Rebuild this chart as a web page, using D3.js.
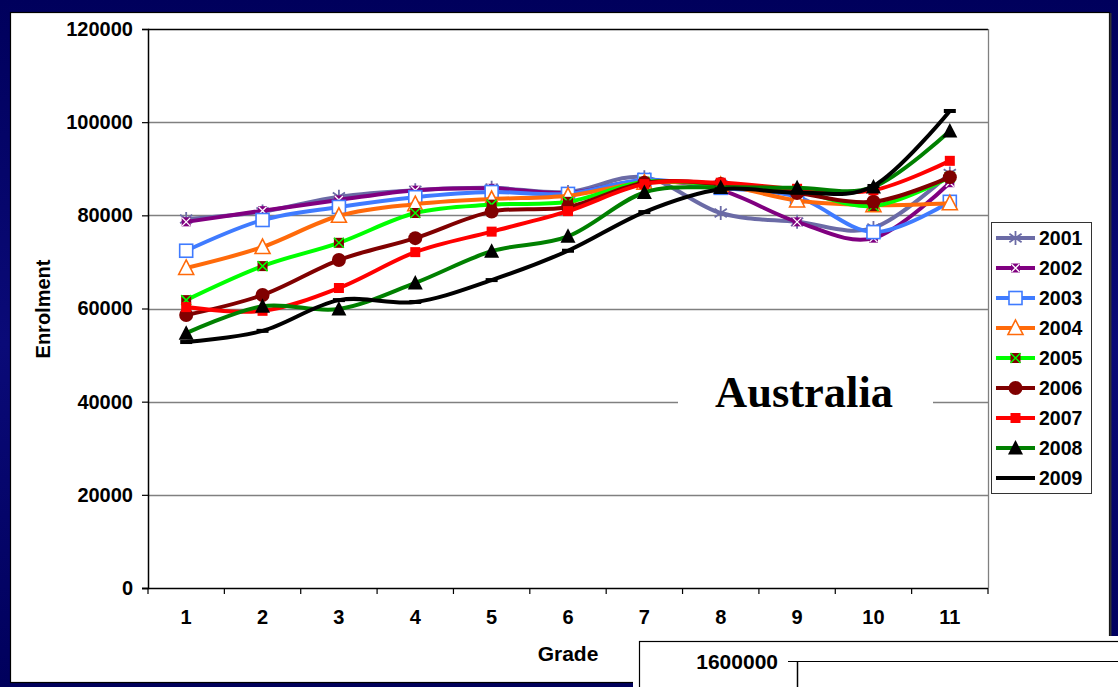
<!DOCTYPE html>
<html>
<head>
<meta charset="utf-8">
<script src="https://cdn.jsdelivr.net/npm/d3@7"></script>
<style>
  html, body { margin: 0; padding: 0; background: #000060; }
  svg { display: block; }
</style>
</head>
<body>
<svg id="chart" width="1118" height="687"></svg>
<script>
// ---------- DATA ----------
const grades = ["1","2","3","4","5","6","7","8","9","10","11"];
const yTicks = [0, 20000, 40000, 60000, 80000, 100000, 120000];
const years = ["2001","2002","2003","2004","2005","2006","2007","2008","2009"];

const y2001 = [79200, 80800, 84000, 85400, 85900, 85000, 88200, 80500, 78600, 77300, 89000];
const y2002 = [78600, 81000, 83300, 85400, 85800, 84800, 87400, 85400, 78600, 75100, 87000];
const y2003 = [72400, 79000, 81800, 83900, 85000, 84600, 87600, 85900, 84000, 76400, 82900];
const y2004 = [68700, 73200, 79900, 82400, 83500, 84200, 87000, 86500, 83200, 82200, 82600];
const y2005 = [61800, 69100, 74100, 80500, 82300, 82900, 87200, 86500, 85200, 82000, 88200];
const y2006 = [58600, 62900, 70400, 75100, 80800, 81800, 87000, 86700, 84800, 82900, 88200];
const y2007 = [60300, 59500, 64400, 72100, 76500, 80900, 86700, 87000, 85700, 85400, 91700];
const y2008 = [54700, 60500, 59900, 65500, 72300, 75500, 84900, 86000, 85900, 86100, 98100];
const y2009 = [52800, 55200, 61800, 61400, 66100, 72400, 80700, 85600, 84900, 86300, 102400];

const seriesValues = [y2001, y2002, y2003, y2004, y2005, y2006, y2007, y2008, y2009];
const lineColors = ["#6b6ba6", "#800080", "#3f7bff", "#ff6a0a", "#00ff00", "#800000", "#ff0000", "#008000", "#000000"];
const markerTypes = ["asterisk", "purpleX", "openSquare", "openTriangle", "greenX", "circle", "square", "triangle", "dash"];

const series = years.map((yr, i) => ({ year: yr, values: seriesValues[i], color: lineColors[i], marker: markerTypes[i] }));

// ---------- LAYOUT ----------
const svg = d3.select("#chart");
const W = 1118, H = 687;
const plot = { left: 148, right: 988, top: 29, bottom: 588 };
const SANS = "Liberation Sans, Arial, sans-serif";

// background
const defs = svg.append("defs");
const grad = defs.append("linearGradient").attr("id", "bg").attr("x1", 0).attr("y1", 0).attr("x2", 0).attr("y2", 1);
grad.append("stop").attr("offset", "0%").attr("stop-color", "#00005c");
grad.append("stop").attr("offset", "50%").attr("stop-color", "#0a0a78");
grad.append("stop").attr("offset", "100%").attr("stop-color", "#00005c");
svg.append("rect").attr("width", W).attr("height", H).attr("fill", "url(#bg)");

// main white panel
svg.append("rect").attr("x", 10.5).attr("y", 12.5).attr("width", 1099).attr("height", 670)
  .attr("fill", "#fff").attr("stroke", "#000").attr("stroke-width", 1.2);
svg.append("line").attr("x1", 1110.5).attr("x2", 1110.5).attr("y1", 13).attr("y2", 683)
  .attr("stroke", "#333").attr("stroke-width", 2);

const x = d3.scaleBand().domain(grades).range([plot.left, plot.right]).paddingInner(0).paddingOuter(0);
const y = d3.scaleLinear().domain([0, 120000]).range([plot.bottom, plot.top]);
const cx = g => x(g) + x.bandwidth() / 2;

// gridlines
svg.append("g").selectAll("line").data(yTicks.filter(t => t > 0)).join("line")
  .attr("x1", plot.left).attr("x2", plot.right)
  .attr("y1", d => Math.round(y(d)) + 0.5).attr("y2", d => Math.round(y(d)) + 0.5)
  .attr("stroke", d => d === 120000 ? "#000" : "#808080").attr("stroke-width", 1.3);
// right border of plot area
svg.append("line").attr("x1", plot.right + 0.5).attr("x2", plot.right + 0.5)
  .attr("y1", plot.top).attr("y2", plot.bottom).attr("stroke", "#808080").attr("stroke-width", 1.3);

// Y axis
const yAxis = svg.append("g").attr("transform", `translate(${plot.left},0)`)
  .call(d3.axisLeft(y).tickValues(yTicks).tickSize(6).tickPadding(9).tickFormat(d3.format("d")));
yAxis.select(".domain").attr("stroke", "#000").attr("stroke-width", 1.5);
yAxis.selectAll(".tick line").attr("stroke", "#000").attr("stroke-width", 1.2);
yAxis.selectAll("text").attr("font-family", SANS)
  .attr("font-size", 20).attr("font-weight", "bold").attr("fill", "#000");

// X axis
const xAxis = svg.append("g").attr("transform", `translate(0,${plot.bottom})`)
  .call(d3.axisBottom(x).tickSize(0).tickPadding(22));
xAxis.select(".domain").remove();
xAxis.selectAll("text").attr("font-family", SANS)
  .attr("font-size", 20).attr("font-weight", "bold").attr("fill", "#000");
svg.append("line").attr("x1", plot.left - 6).attr("x2", plot.right)
  .attr("y1", plot.bottom + 0.5).attr("y2", plot.bottom + 0.5).attr("stroke", "#000").attr("stroke-width", 1.5);
svg.append("g").selectAll("line").data(d3.range(grades.length + 1)).join("line")
  .attr("x1", i => plot.left + i * x.step()).attr("x2", i => plot.left + i * x.step())
  .attr("y1", plot.bottom).attr("y2", plot.bottom + 6).attr("stroke", "#000").attr("stroke-width", 1.2);

// axis titles
svg.append("text").attr("x", 568).attr("y", 661).attr("text-anchor", "middle")
  .attr("font-family", SANS).attr("font-size", 21).attr("font-weight", "bold")
  .text("Grade");
svg.append("text").attr("transform", "translate(50,309) rotate(-90)").attr("text-anchor", "middle")
  .attr("font-family", SANS).attr("font-size", 20).attr("font-weight", "bold")
  .text("Enrolment");

// "Australia" label with white background
svg.append("rect").attr("x", 678).attr("y", 376).attr("width", 255).attr("height", 42).attr("fill", "#fff");
svg.append("text").attr("x", 804).attr("y", 407).attr("text-anchor", "middle")
  .attr("font-family", "Liberation Serif, Times New Roman, serif").attr("font-size", 44.5).attr("font-weight", "bold")
  .text("Australia");

// ---------- MARKERS ----------
function drawMarker(g, type, color) {
  switch (type) {
    case "asterisk": {
      const r = 7;
      const p = d3.path();
      p.moveTo(0, -r); p.lineTo(0, r);
      p.moveTo(-r * 0.87, -r * 0.6); p.lineTo(r * 0.87, r * 0.6);
      p.moveTo(-r * 0.87, r * 0.6); p.lineTo(r * 0.87, -r * 0.6);
      g.append("path").attr("d", p.toString()).attr("stroke", color).attr("stroke-width", 1.8).attr("fill", "none");
      break;
    }
    case "purpleX": {
      g.append("rect").attr("x", -4.5).attr("y", -4.5).attr("width", 9).attr("height", 9).attr("fill", color);
      g.append("path").attr("d", "M-4,-4L4,4M-4,4L4,-4").attr("stroke", "#fff").attr("stroke-width", 1.3);
      break;
    }
    case "openSquare":
      g.append("rect").attr("x", -6.5).attr("y", -6.5).attr("width", 13).attr("height", 13)
        .attr("fill", "#fff").attr("stroke", color).attr("stroke-width", 1.6);
      break;
    case "openTriangle":
      g.append("path").attr("d", "M0,-8L7.5,6.5L-7.5,6.5Z")
        .attr("fill", "#fff").attr("stroke", color).attr("stroke-width", 1.6);
      break;
    case "greenX":
      g.append("rect").attr("x", -5).attr("y", -5).attr("width", 10).attr("height", 10).attr("fill", "#800000");
      g.append("path").attr("d", "M-5,-5L5,5M-5,5L5,-5").attr("stroke", color).attr("stroke-width", 1.5);
      break;
    case "circle":
      g.append("circle").attr("r", 7).attr("fill", color);
      break;
    case "square":
      g.append("rect").attr("x", -5).attr("y", -5).attr("width", 10).attr("height", 10).attr("fill", color);
      break;
    case "triangle":
      g.append("path").attr("d", "M0,-8L7.5,6.5L-7.5,6.5Z").attr("fill", "#000");
      break;
    case "dash":
      g.append("rect").attr("x", -6).attr("y", -2).attr("width", 12).attr("height", 4).attr("fill", "#000");
      break;
  }
}

// ---------- SERIES ----------
const line = d3.line().x((d, i) => cx(grades[i])).y(d => y(d)).curve(d3.curveCatmullRom.alpha(0));
const seriesG = svg.append("g");
series.forEach(s => {
  const g = seriesG.append("g");
  g.append("path").attr("d", line(s.values)).attr("fill", "none").attr("stroke", s.color)
    .attr("stroke-width", 4).attr("stroke-linejoin", "round");
  s.values.forEach((v, i) => {
    const mg = g.append("g").attr("transform", `translate(${cx(grades[i])},${y(v)})`);
    drawMarker(mg, s.marker, s.color);
  });
});

// ---------- LEGEND ----------
const legend = svg.append("g");
legend.append("rect").attr("x", 991.5).attr("y", 222.5).attr("width", 100).attr("height", 271)
  .attr("fill", "#fff").attr("stroke", "#333").attr("stroke-width", 1);
series.forEach((s, i) => {
  const ly = 238 + i * 30;
  const g = legend.append("g").attr("transform", `translate(0,${ly})`);
  g.append("line").attr("x1", 996).attr("x2", 1035).attr("y1", 0).attr("y2", 0)
    .attr("stroke", s.color).attr("stroke-width", 4);
  if (s.marker !== "dash") {
    drawMarker(g.append("g").attr("transform", "translate(1015.5,0)"), s.marker, s.color);
  }
  g.append("text").attr("x", 1039).attr("y", 7)
    .attr("font-family", SANS).attr("font-size", 19.5).attr("font-weight", "bold")
    .text(s.year);
});

// ---------- second (partially visible) panel ----------
svg.append("rect").attr("x", 633).attr("y", 636).attr("width", 500).attr("height", 60).attr("fill", "#fff");
svg.append("rect").attr("x", 639.5).attr("y", 641.5).attr("width", 500).attr("height", 60)
  .attr("fill", "#fff").attr("stroke", "#000").attr("stroke-width", 1.2);
svg.append("text").attr("x", 778).attr("y", 669).attr("text-anchor", "end")
  .attr("font-family", SANS).attr("font-size", 21).attr("font-weight", "bold")
  .text("1600000");
svg.append("line").attr("x1", 788).attr("x2", 1118).attr("y1", 661.5).attr("y2", 661.5)
  .attr("stroke", "#000").attr("stroke-width", 1.2);
svg.append("line").attr("x1", 797.5).attr("x2", 797.5).attr("y1", 661).attr("y2", 687)
  .attr("stroke", "#000").attr("stroke-width", 1.5);
</script>
</body>
</html>
